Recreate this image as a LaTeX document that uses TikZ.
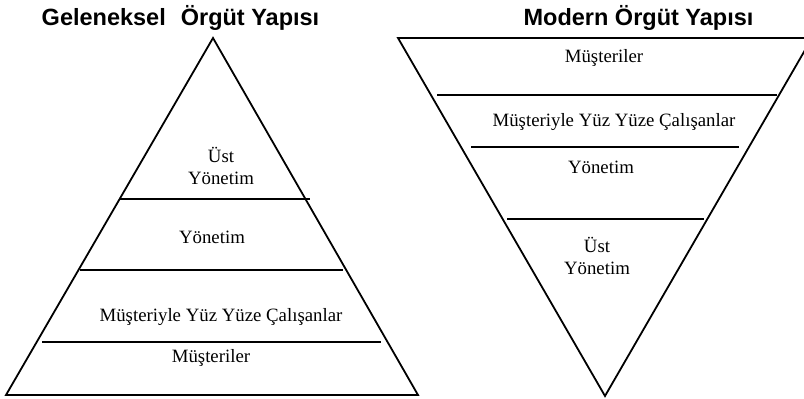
\documentclass[tikz,border=0pt]{standalone}
\usepackage{fontspec}
\setmainfont{Liberation Serif}
\newfontfamily\titlefont{Liberation Sans}
\usepackage{tikz}

\tikzset{
  katman/.style={font=\fontsize{18.8}{22}\selectfont, align=center, inner sep=0pt},
  baslik/.style={font=\titlefont\bfseries\fontsize{23.5}{26}\selectfont, inner sep=0pt},
  kenar/.style={black, line width=1.8pt, line join=miter},
  cizgi/.style={black, line width=1.8pt}
}

\begin{document}
\begin{tikzpicture}[x=1pt, y=-1pt]
\useasboundingbox (0,0) rectangle (804,399);

% basliklar
\node [baslik] (gbaslik) at (180.5,17.5) {Geleneksel\hspace{15pt}Örgüt Yapısı};
\node [baslik] (mbaslik) at (638.5,17.5) {Modern Örgüt Yapısı};

% geleneksel yapi
\coordinate (gtepe) at (213,38);
\coordinate (gsol) at (6,395);
\coordinate (gsag) at (418,395);
\draw [kenar] (gtepe) -- (gsag) -- (gsol) -- cycle;
\coordinate (g1a) at (120,199);
\coordinate (g1b) at (310,199);
\coordinate (g2a) at (80,270);
\coordinate (g2b) at (343,270);
\coordinate (g3a) at (42,342);
\coordinate (g3b) at (381,342);
\draw [cizgi] (g1a) -- (g1b);
\draw [cizgi] (g2a) -- (g2b);
\draw [cizgi] (g3a) -- (g3b);
\node [katman] (gust) at (221,166) {Üst\\Yönetim};
\node [katman] (gyon) at (212,237) {Yönetim};
\node [katman] (gcal) at (221,317) {Müşteriyle Yüz Yüze Çalışanlar};
\node [katman] (gmus) at (211,358) {Müşteriler};

% modern yapi
\coordinate (mtepe) at (605,396);
\coordinate (msol) at (398,38);
\coordinate (msag) at (812,38);
\draw [kenar] (msol) -- (msag) -- (mtepe) -- cycle;
\coordinate (m1a) at (437,95);
\coordinate (m1b) at (777,95);
\coordinate (m2a) at (471,147);
\coordinate (m2b) at (739,147);
\coordinate (m3a) at (507,219);
\coordinate (m3b) at (704,219);
\draw [cizgi] (m1a) -- (m1b);
\draw [cizgi] (m2a) -- (m2b);
\draw [cizgi] (m3a) -- (m3b);
\node [katman] (mmus) at (604,57.5) {Müşteriler};
\node [katman] (mcal) at (614,122) {Müşteriyle Yüz Yüze Çalışanlar};
\node [katman] (myon) at (601,167) {Yönetim};
\node [katman] (must) at (597,256) {Üst\\Yönetim};
\end{tikzpicture}
\end{document}
